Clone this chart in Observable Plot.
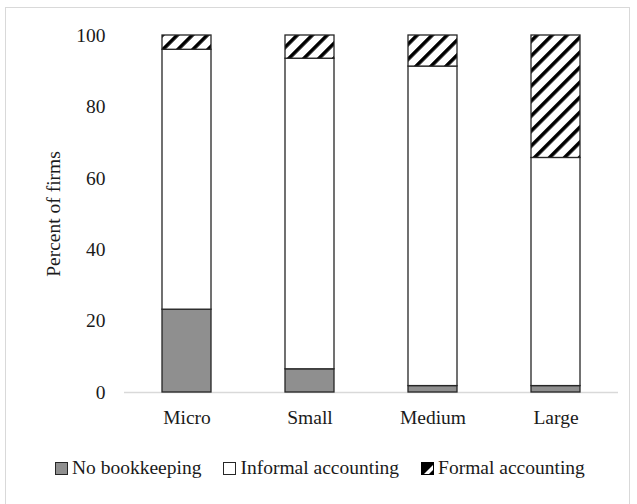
<!DOCTYPE html>
<html>
<head>
<meta charset="utf-8">
<script src="https://cdn.jsdelivr.net/npm/d3@7"></script>
<script src="https://cdn.jsdelivr.net/npm/@observablehq/plot@0.6"></script>
<style>
  html, body { margin: 0; padding: 0; background: #fff; }
  #wrap { position: relative; width: 637px; height: 504px; overflow: hidden; font-family: "Liberation Serif", "DejaVu Serif", serif; }
  #frame { position: absolute; left: 5px; top: 7px; width: 625px; height: 520px; border: 1px solid #d9d9d9; box-sizing: border-box; }
  #chart { position: absolute; left: 0; top: 0; }
  #legend { position: absolute; left: 55px; top: 455px; height: 26px; display: flex; align-items: center; font-size: 19.5px; color: #1a1a1a; white-space: nowrap; }
  #legend .item { display: flex; align-items: center; margin-right: 22px; }
  #legend svg { margin-right: 4px; }
</style>
</head>
<body>
<div id="wrap">
  <div id="frame"></div>
  <div id="chart"></div>
  <div id="legend"></div>
</div>
<script>
const categories = ["Micro", "Small", "Medium", "Large"];
const seriesNames = ["No bookkeeping", "Informal accounting", "Formal accounting"];
const noBookkeeping = [23.2, 6.5, 1.8, 1.8];
const informalAccounting = [72.8, 87.0, 89.5, 63.9];
const formalAccounting = [4.0, 6.5, 8.7, 34.3];
const yTicks = [0, 20, 40, 60, 80, 100];
const seriesFills = ["#8f8f8f", "#ffffff", "url(#hatch)"];

const seriesValues = [noBookkeeping, informalAccounting, formalAccounting];
const rows = [];
categories.forEach((c, i) => {
  seriesNames.forEach((s, j) => rows.push({category: c, series: s, value: seriesValues[j][i]}));
});

const chart = Plot.plot({
  width: 637,
  height: 440,
  marginLeft: 124,
  marginRight: 19,
  marginTop: 35,
  marginBottom: 48,
  style: {fontFamily: "'Liberation Serif', 'DejaVu Serif', serif", fontSize: "19.5px", color: "#1a1a1a", background: "transparent"},
  x: {domain: categories, paddingInner: 0.6, paddingOuter: 0.3, label: null, tickSize: 0, tickPadding: 18},
  y: {domain: [0, 100], ticks: yTicks, label: null, tickSize: 0, tickPadding: 19},
  color: {domain: seriesNames, range: seriesFills},
  marks: [
    Plot.ruleY([0], {stroke: "#d9d9d9", strokeWidth: 1.3}),
    Plot.barY(rows, {x: "category", y: "value", fill: "series", stroke: "#262626", strokeWidth: 1.3, order: seriesNames}),
    Plot.text(["Percent of firms"], {frameAnchor: "left", textAnchor: "middle", dx: -71, rotate: -90, fontSize: 19.5, fill: "#1a1a1a"})
  ]
});

const svg = d3.select(chart);
const defs = svg.insert("defs", ":first-child");
const pat = defs.append("pattern")
  .attr("id", "hatch")
  .attr("patternUnits", "userSpaceOnUse")
  .attr("width", 10.6)
  .attr("height", 10.6)
  .attr("patternTransform", "rotate(45)");
pat.append("rect").attr("width", 10.6).attr("height", 10.6).attr("fill", "#fff");
pat.append("rect").attr("x", 0).attr("width", 3.6).attr("height", 10.6).attr("fill", "#000");

document.getElementById("chart").appendChild(chart);

const legend = d3.select("#legend");
seriesNames.forEach((name, i) => {
  const item = legend.append("div").attr("class", "item");
  const sw = item.append("svg").attr("width", 13).attr("height", 13);
  if (i === 2) {
    sw.append("rect").attr("x", 0.5).attr("y", 0.5).attr("width", 12).attr("height", 12).attr("fill", "#000");
    sw.append("polygon").attr("points", "3,12 12,3 12,8 8,12").attr("fill", "#fff");
    sw.append("rect").attr("x", 0.5).attr("y", 0.5).attr("width", 12).attr("height", 12).attr("fill", "none").attr("stroke", "#000");
  } else {
    sw.append("rect").attr("x", 0.5).attr("y", 0.5).attr("width", 12).attr("height", 12)
      .attr("fill", seriesFills[i]).attr("stroke", "#262626");
  }
  item.append("span").text(name);
});
</script>
</body>
</html>
